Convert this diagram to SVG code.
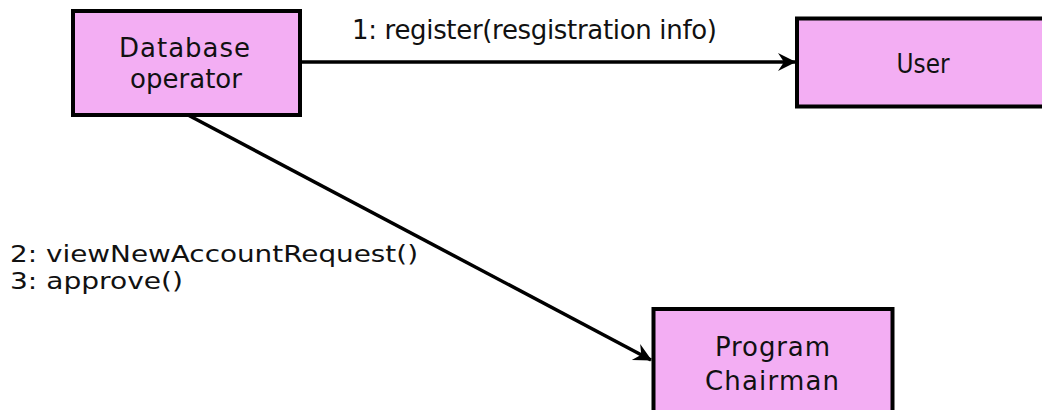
<svg xmlns="http://www.w3.org/2000/svg" width="1042" height="410" viewBox="0 0 1042 410">
  <style>
    .box { fill: #F3AEF3; stroke: #000; stroke-width: 4; }
    .lbl { font-family: "DejaVu Sans", "Liberation Sans", sans-serif; font-size: 26px; fill: #111; }
    .sm { font-size: 23px; }
    .c { text-anchor: middle; }
    .conn { stroke: #000; stroke-width: 3.5; fill: none; }
  </style>
  <defs>
    <marker id="arrow" markerUnits="userSpaceOnUse" markerWidth="24" markerHeight="24" viewBox="-20 -12 24 24" refX="0" refY="0" orient="auto">
      <path d="M1,0 L-17,-9 L-11,0 L-17,9 Z" fill="#000"/>
    </marker>
  </defs>
  <rect width="1042" height="410" fill="#fff"/>
  <g id="connectors">
    <line class="conn" x1="300" y1="62" x2="795" y2="62" marker-end="url(#arrow)"/>
    <line class="conn" x1="188" y1="115" x2="651" y2="360" marker-end="url(#arrow)"/>
    <text class="lbl" x="352" y="39" textLength="365">1: register(resgistration info)</text>
    <text class="lbl sm" x="10" y="262" textLength="408" lengthAdjust="spacingAndGlyphs">2: viewNewAccountRequest()</text>
    <text class="lbl sm" x="10" y="289" textLength="173" lengthAdjust="spacingAndGlyphs">3: approve()</text>
  </g>
  <g id="database-operator">
    <rect class="box" x="73" y="11" width="227" height="104"/>
    <text class="lbl c" x="184.5" y="57" textLength="131">Database</text>
    <text class="lbl c" x="186" y="88" textLength="112">operator</text>
  </g>
  <g id="user">
    <rect class="box" x="797" y="18.5" width="270" height="88"/>
    <text class="lbl c" x="923" y="73" textLength="53" lengthAdjust="spacingAndGlyphs">User</text>
  </g>
  <g id="program-chairman">
    <rect class="box" x="653.5" y="309" width="239" height="130"/>
    <text class="lbl c" x="772.5" y="356" textLength="115">Program</text>
    <text class="lbl c" x="772" y="390" textLength="134">Chairman</text>
  </g>
</svg>
